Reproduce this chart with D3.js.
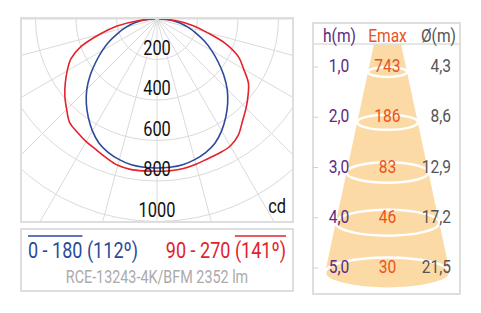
<!DOCTYPE html>
<html>
<head>
<meta charset="utf-8">
<script src="https://cdn.jsdelivr.net/npm/d3@7"></script>
<style>
body{margin:0;background:#fff;}
svg{display:block;}
text{font-family:Roboto,"Liberation Sans",sans-serif;}
</style>
</head>
<body>
<svg id="chart" width="481" height="313"></svg>
<script>
// 配光データ（角度は真下=0°から, 単位cd）
var angles   = [0,5,10,15,20,25,30,35,40,45,50,55,60,65,70,75,80,85,90];
// 0-180 面（左右ほぼ対称）
var cd0_180  = [736,735,731,719,702,677,638,592,543,490,430,368,312,258,206,160,115,70,20];
// 90-270 面 右側(90) / 左側(270)
var cd90     = [752,752,750,743,734,730,724,700,657,622,587,551,494,445,365,255,175,90,10];
var cd270    = [752,753,754,748,730,712,699,684,670,631,594,553,512,470,400,295,200,95,10];

// グリッド
var ringValues  = [200,400,600,800,1000,1200];
var ringLabels  = [200,400,600,800,1000];
var spokeAngles = [-90,-75,-60,-45,-30,-15,0,15,30,45,60,75,90];

// 凡例
var legendBlue = "0 - 180 (112º)";
var legendRed  = "90 - 270 (141º)";
var lampText   = "RCE-13243-4K/BFM 2352 lm";

// 右の表
var heights = [1,2,3,4,5];
var emax    = [743,186,83,46,30];
var diam    = [4.3,8.6,12.9,17.2,21.5];

var BLUE = '#2c4a9c', RED = '#e3222b';
var NARROW = 0.82;   // 細い書体の代わりに横方向を縮める
var svg = d3.select('#chart');

drawPolar();
drawLegend();
drawTable();

// 横を縮めた文字を置く
function addText(x, y, str, size, fill, anchor){
    var g = svg.append('g')
        .attr('transform','translate('+x+','+y+') scale('+NARROW+',1)');
    var t = g.append('text')
        .attr('text-anchor', anchor || 'start')
        .attr('font-size', size).attr('fill', fill)
        .text(str);
    return t;
}

// 配光曲線
function drawPolar(){
    var cx = 157, cy = 19;
    var box = {x:21, y:18, w:272, h:204};
    var r = d3.scaleLinear().domain([0,1000]).range([0,202.5]);
    var rad = (d) => d*Math.PI/180;

    svg.append('clipPath').attr('id','clipPolar')
        .append('rect').attr('x',box.x).attr('y',box.y).attr('width',box.w).attr('height',box.h);

    var g = svg.append('g').attr('clip-path','url(#clipPolar)')
        .append('g').attr('transform','translate('+cx+','+cy+')');

    g.selectAll('circle.ring').data(ringValues).join('circle')
        .attr('class','ring')
        .attr('r', d => r(d))
        .attr('fill','none').attr('stroke','#dadada').attr('stroke-width',1);

    g.selectAll('line.spoke').data(spokeAngles).join('line')
        .attr('class','spoke')
        .attr('x1',0).attr('y1',0)
        .attr('x2', d => r(1600)*Math.sin(rad(d)))
        .attr('y2', d => r(1600)*Math.cos(rad(d)))
        .attr('stroke','#dadada').attr('stroke-width',1);

    // 左半分 → 真下 → 右半分 の順で点を並べる
    function toPoints(left, right){
        var pts = [];
        for(var i=angles.length-1; i>=0; i--){
            pts.push([Math.PI + rad(angles[i]), r(left[i])]);
        }
        for(var j=1; j<angles.length; j++){
            pts.push([Math.PI - rad(angles[j]), r(right[j])]);
        }
        return pts;
    }
    var line = d3.lineRadial()
        .angle(d => d[0]).radius(d => d[1])
        .curve(d3.curveCatmullRom.alpha(0.5));

    g.append('path').datum(toPoints(cd0_180, cd0_180))
        .attr('d', line).attr('fill','none')
        .attr('stroke',BLUE).attr('stroke-width',1.6);
    g.append('path').datum(toPoints(cd270, cd90))
        .attr('d', line).attr('fill','none')
        .attr('stroke',RED).attr('stroke-width',1.6);

    // ラベル
    ringLabels.forEach(function(v){
        addText(cx, cy + r(v) - 5, v, 20, '#111', 'middle');
    });
    addText(286, 213, 'cd', 20, '#111', 'end');

    svg.append('rect').attr('x',box.x).attr('y',box.y).attr('width',box.w).attr('height',box.h)
        .attr('fill','none').attr('stroke','#dedede').attr('stroke-width',2);
}

// 凡例ボックス
function drawLegend(){
    svg.append('rect').attr('x',21).attr('y',229).attr('width',272).attr('height',62)
        .attr('fill','none').attr('stroke','#dedede').attr('stroke-width',2);

    var tb = addText(28, 258, legendBlue, 22, BLUE, 'start');
    var tr = addText(286, 258, legendRed, 22, RED, 'end');

    // 線の見本（文字の上のバー）, 縮めたグループの中に引く
    var wb = tb.node().getSubStringLength(0, 7);
    d3.select(tb.node().parentNode).append('line')
        .attr('x1',0).attr('x2',wb).attr('y1',-22).attr('y2',-22)
        .attr('stroke',BLUE).attr('stroke-width',1.6);
    var n = legendRed.length;
    var wr = tr.node().getSubStringLength(n-6, 6);
    d3.select(tr.node().parentNode).append('line')
        .attr('x1',-wr).attr('x2',0).attr('y1',-22).attr('y2',-22)
        .attr('stroke',RED).attr('stroke-width',1.6);

    addText(157, 283, lampText, 17.5, '#ababab', 'middle');
}

// 照度の表（円錐）
function drawTable(){
    var cx = 387.5;
    var headY = 44;
    var y = d3.scaleLinear().domain([1,5]).range([72,273]);
    var rx = d3.scaleLinear().domain([1,5]).range([19.5,62.5]);
    var fmt = (v) => d3.format('.1f')(v).replace('.', ',');

    // 円錐
    var hTop = y.invert(headY);
    var wTop = rx(hTop), wBot = rx(5), yBot = y(5);
    svg.append('path')
        .attr('d', 'M'+(cx-wTop)+','+headY+' L'+(cx+wTop)+','+headY+
                   ' L'+(cx+wBot)+','+yBot+
                   ' A'+wBot+','+(wBot/4)+' 0 0 1 '+(cx-wBot)+','+yBot+' Z')
        .attr('fill','#fcdaa6');

    svg.selectAll('ellipse.ring').data(heights).join('ellipse')
        .attr('class','ring')
        .attr('cx',cx).attr('cy', d => y(d))
        .attr('rx', d => rx(d)).attr('ry', d => rx(d)/4)
        .attr('fill','none').attr('stroke','#fff').attr('stroke-width',2.5);

    // 枠
    svg.append('rect').attr('x',313).attr('y',23).attr('width',147).attr('height',271)
        .attr('fill','none').attr('stroke','#dedede').attr('stroke-width',2);
    svg.append('line').attr('x1',313).attr('x2',460).attr('y1',headY).attr('y2',headY)
        .attr('stroke','#dedede').attr('stroke-width',1.5);

    // 見出し
    addText(339.5, 41.5, 'h(m)', 19, '#5b2c83', 'middle');
    addText(cx, 41.5, 'Emax', 19, '#e8541c', 'middle');
    addText(456, 41.5, 'Ø(m)', 19, '#555', 'end');

    // 目盛り
    svg.selectAll('line.tick').data(heights).join('line')
        .attr('class','tick')
        .attr('x1',313).attr('x2',318)
        .attr('y1', d => y(d) - 5).attr('y2', d => y(d) - 5)
        .attr('stroke','#cfcfcf').attr('stroke-width',1);

    heights.forEach(function(h, i){
        addText(339, y(h), fmt(h), 19, '#5b2c83', 'middle');
        addText(cx, y(h), emax[i], 19, '#e8541c', 'middle');
        addText(451, y(h), fmt(diam[i]), 19, '#555', 'end');
    });
}
</script>
</body>
</html>
